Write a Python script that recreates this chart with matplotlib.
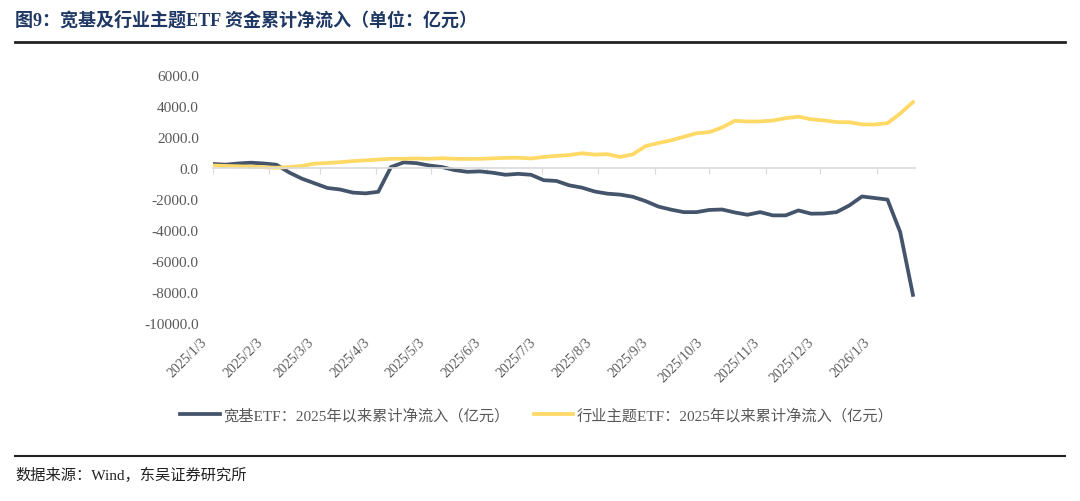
import matplotlib
matplotlib.use("Agg")
import matplotlib.pyplot as plt
import matplotlib.dates as mdates
import matplotlib.transforms as mtransforms
import pandas as pd

plt.rcParams['font.family'] = ['Liberation Serif', 'Noto Sans CJK SC']

# weekly data, Fridays from 2025-01-03
dates = pd.date_range("2025-01-03", periods=56, freq="7D")

broad_etf = [
    250, 200, 280, 330, 280, 200, -300, -700, -1000, -1300,
    -1400, -1600, -1650, -1550, 50, 350, 300, 150, 50, -150,
    -260, -230, -320, -450, -390, -450, -800, -850, -1130, -1280,
    -1530, -1670, -1730, -1870, -2150, -2500, -2700, -2860, -2860, -2720,
    -2690, -2880, -3030, -2860, -3070, -3070, -2750, -2960, -2950, -2860,
    -2430, -1850, -1950, -2050, -4150, -8200,
]
sector_etf = [
    150, 120, 100, 70, 40, 0, 50, 120, 270, 310,
    360, 430, 480, 530, 580, 580, 600, 580, 620, 580,
    570, 580, 610, 640, 650, 600, 700, 770, 820, 940,
    850, 880, 700, 870, 1400, 1600, 1770, 2000, 2230, 2300,
    2600, 3030, 2990, 2990, 3050, 3200, 3300, 3130, 3060, 2950,
    2940, 2800, 2790, 2880, 3500, 4240,
]

labels = ["宽基ETF：2025年以来累计净流入（亿元）",
          "行业主题ETF：2025年以来累计净流入（亿元）"]
colors = ["#44546A", "#FFD966"]
yticks = list(range(-10000, 6001, 2000))
tick_dates = pd.date_range("2025-01-01", "2026-01-03", freq="MS") + pd.Timedelta(days=2)

gray = "#595959"

fig = plt.figure(figsize=(10.8, 5.02), dpi=100)
ax = fig.add_axes([0.197, 0.355, 0.650, 0.494])

ax.plot(dates, broad_etf, color=colors[0], lw=2.7, label=labels[0])
ax.plot(dates, sector_etf, color=colors[1], lw=2.7, label=labels[1])

ax.set_xlim(dates[0], dates[-1] + pd.Timedelta(days=1))
ax.set_ylim(-10000, 6000)
ax.set_yticks(yticks)
ax.set_yticklabels([f"{v:.1f}" for v in yticks], color=gray, fontsize=11)
ax.tick_params(axis='y', length=0, pad=10)

for s in ['top', 'right', 'left']:
    ax.spines[s].set_visible(False)
ax.spines['bottom'].set_position(('data', 0))
ax.spines['bottom'].set_color("#D9D9D9")
ax.spines['bottom'].set_linewidth(1.2)
ax.set_xticks(tick_dates)
ax.tick_params(axis='x', direction='out', length=4, color="#D9D9D9",
               labelbottom=False)

sec = ax.secondary_xaxis('bottom')
sec.spines['bottom'].set_visible(False)
sec.set_xticks(tick_dates)
sec.xaxis.set_major_formatter(
    matplotlib.ticker.FuncFormatter(
        lambda x, pos: f"{mdates.num2date(x).year}/{mdates.num2date(x).month}/{mdates.num2date(x).day}"))
sec.tick_params(axis='x', length=0, pad=9, labelsize=10, labelcolor=gray)
shift = mtransforms.ScaledTranslation(-13 / 100, 0, fig.dpi_scale_trans)
for t in sec.get_xticklabels():
    t.set_rotation(45)
    t.set_ha('right')
    t.set_rotation_mode('anchor')
    t.set_transform(t.get_transform() + shift)

fig.legend(loc='center', bbox_to_anchor=(0.497, 1 - 416 / 502), ncol=2,
           frameon=False, fontsize=11, labelcolor=gray, handlelength=2.6,
           handletextpad=0.2, columnspacing=1.6)

fig.text(0.014, 1 - 20 / 502, "图9：宽基及行业主题ETF 资金累计净流入（单位：亿元）",
         fontsize=13, fontweight='bold', color="#1F3864", va='center')
fig.add_artist(plt.Line2D([0.014, 0.986], [1 - 43 / 502] * 2, color="#222222", lw=2))
fig.add_artist(plt.Line2D([0.014, 0.986], [1 - 457 / 502] * 2, color="#222222", lw=1.5))
fig.text(0.014, 1 - 475 / 502, "数据来源：Wind，东吴证券研究所",
         fontsize=11, color="#222222", va='center')

fig.savefig("out.png", dpi=100)
